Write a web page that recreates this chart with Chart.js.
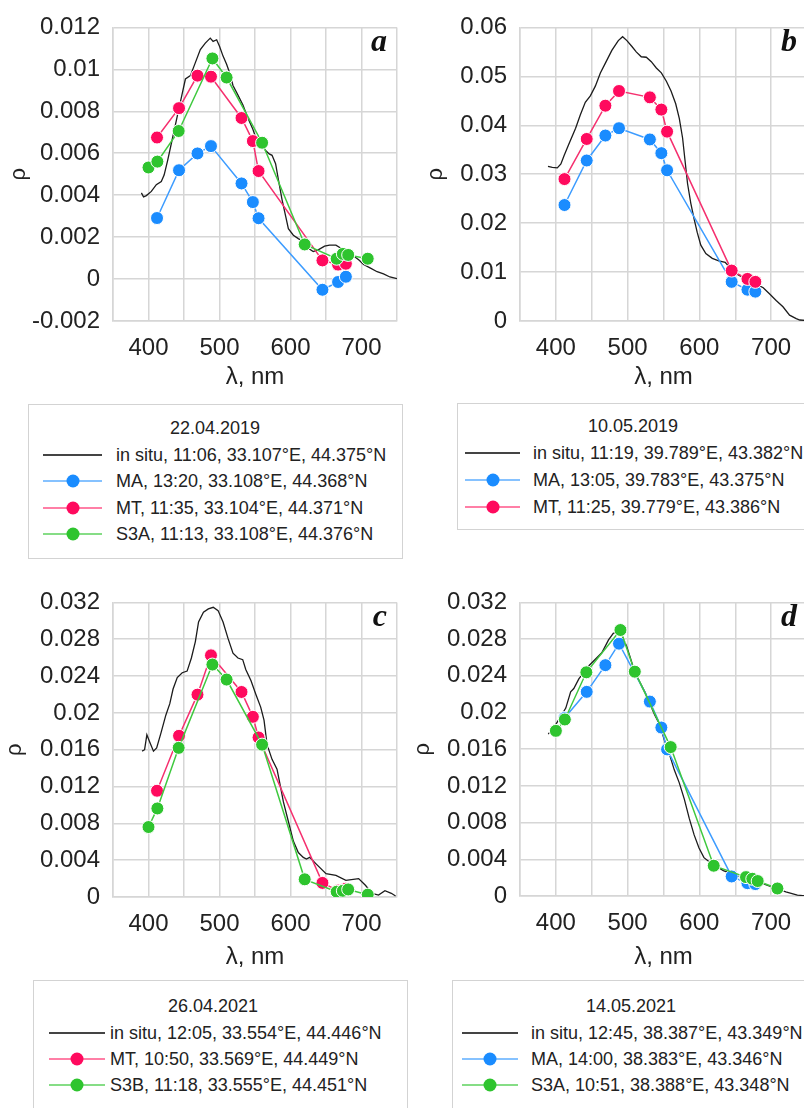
<!DOCTYPE html>
<html lang="en">
<head>
  <meta charset="UTF-8">
  <title>Reflectance spectra: in situ vs satellite</title>
  <script src="https://cdn.jsdelivr.net/npm/chart.js"></script>
  <style>
    html, body { margin: 0; padding: 0; background: #fff; }
    body { position: relative; width: 804px; height: 1108px; overflow: hidden;
           font-family: "Liberation Sans", Arial, sans-serif; color: #222; }
    canvas { position: absolute; }
    .box { position: absolute; border: 1.5px solid #d3d3d3; box-sizing: border-box; }
    .txt { position: absolute; font-size: 18px; line-height: 20px; white-space: nowrap; }
    .sw { position: absolute; height: 2px; }
    .sw i { position: absolute; left: 50%; top: 50%; width: 13px; height: 13px; border-radius: 50%;
            transform: translate(-50%, -50%); }
  </style>
</head>
<body>

  <canvas id="chartA" width="410" height="400" style="left:0; top:0;"></canvas>
  <canvas id="chartB" width="410" height="400" style="left:410px; top:0;"></canvas>
  <canvas id="chartC" width="410" height="405" style="left:0; top:575px;"></canvas>
  <canvas id="chartD" width="410" height="405" style="left:410px; top:575px;"></canvas>

  <script>
    /* band centres of the sensors (nm) */
    const bandsModis = [412, 443, 469, 488, 531, 547, 555, 645, 667, 678]
    const bandsOlci = [400, 412.5, 442.5, 490, 510, 560, 620, 665, 673.75, 681.25, 708.75]

    /* axis ticks */
    const xGrid = [350, 400, 450, 500, 550, 600, 650, 700, 750]
    const xLabels = [400, 500, 600, 700]
    const yTicksA = [-0.002, 0, 0.002, 0.004, 0.006, 0.008, 0.01, 0.012]
    const yTicksB = [0, 0.01, 0.02, 0.03, 0.04, 0.05, 0.06]
    const yTicksCD = [0, 0.004, 0.008, 0.012, 0.016, 0.02, 0.024, 0.028, 0.032]

    /* a: 22.04.2019 */
    const dateA = "22.04.2019"
    const labelsA = ["in situ, 11:06, 33.107°E, 44.375°N", "MA, 13:20, 33.108°E, 44.368°N",
      "MT, 11:35, 33.104°E, 44.371°N", "S3A, 11:13, 33.108°E, 44.376°N"]
    const inSituWlA = [390, 393, 397, 404, 411, 418, 422, 427, 434, 441, 447, 452, 459, 466, 473, 480, 487, 491, 496, 500,
      505, 510, 514, 519, 526, 533, 540, 547, 551, 558, 565, 570, 574, 579, 583, 588, 593, 597, 604, 611,
      618, 625, 632, 639, 648, 655, 664, 671, 678, 687, 696, 703, 712, 722, 731, 740, 750]
    const inSituA = [0.00411, 0.00392, 0.00398, 0.00418, 0.0045, 0.00465, 0.00496, 0.00566, 0.00675, 0.00784,
      0.00877, 0.00954, 0.0097, 0.01032, 0.01094, 0.01125, 0.01149, 0.01133, 0.01141, 0.0111,
      0.01063, 0.01024, 0.00986, 0.00923, 0.00877, 0.0083, 0.00768, 0.00714, 0.00675, 0.00644,
      0.00613, 0.00597, 0.0059, 0.0055, 0.00473, 0.0038, 0.00302, 0.0024, 0.00209, 0.00193,
      0.00178, 0.00147, 0.00131, 0.00139, 0.00157, 0.00162, 0.00162, 0.00147, 0.00131, 0.00115,
      0.00092, 0.00069, 0.00053, 0.00035, 0.00025, 0.0001, 0.00002]
    const maA = [0.00291, 0.00519, 0.00599, 0.00634, 0.00456, 0.00367, 0.0029, -0.00051, -0.00014, 0.00011]
    const mtA = [0.00675, 0.00815, 0.0097, 0.00965, 0.00768, 0.00658, 0.00515, 0.00089, 0.00069, 0.00073]
    const s3aA = [0.00532, 0.0056, 0.00706, 0.01052, 0.00961, 0.0065, 0.00165, 0.00097, 0.0012, 0.00115, 0.00097]

    /* b: 10.05.2019 */
    const dateB = "10.05.2019"
    const labelsB = ["in situ, 11:19, 39.789°E, 43.382°N", "MA, 13:05, 39.783°E, 43.375°N",
      "MT, 11:25, 39.779°E, 43.386°N"]
    const inSituWlB = [389, 395, 402, 407, 411.5, 418, 427.5, 434, 441, 448, 455, 462, 469, 478, 487, 493, 499, 506, 512, 519,
      526, 533, 540, 547, 554, 560.5, 567, 572, 576.6, 580, 583.5, 588, 592.7, 597, 602, 609, 618, 627, 636, 643,
      652, 661.5, 670.6, 680, 689, 698, 707, 716.5, 725.7, 735, 740, 748]
    const inSituB = [0.0316, 0.0314, 0.0313, 0.0321, 0.0338, 0.0361, 0.0394, 0.0421, 0.0447, 0.046,
      0.048, 0.0507, 0.0527, 0.0553, 0.0573, 0.0581, 0.0573, 0.0561, 0.055, 0.054,
      0.0539, 0.053, 0.0517, 0.0507, 0.049, 0.047, 0.0444, 0.0414, 0.0374, 0.0328,
      0.0281, 0.0241, 0.0208, 0.0181, 0.0155, 0.0138, 0.0128, 0.0123, 0.012, 0.0108,
      0.0096, 0.0088, 0.0082, 0.0075, 0.0068, 0.0055, 0.0042, 0.0029, 0.0012, 0.0005, 0.0002, 0.0001]
    const maB = [0.0237, 0.0328, 0.0379, 0.0394, 0.0371, 0.0343, 0.0308, 0.0080, 0.0064, 0.0060]
    const mtB = [0.0290, 0.0372, 0.0440, 0.0470, 0.0457, 0.0432, 0.0387, 0.0103, 0.0086, 0.0080]

    /* c: 26.04.2021 */
    const dateC = "26.04.2021"
    const labelsC = ["in situ, 12:05, 33.554°E, 44.446°N", "MT, 10:50, 33.569°E, 44.449°N",
      "S3B, 11:18, 33.555°E, 44.451°N"]
    const inSituWlC = [391, 394.5, 397.7, 401.4, 407, 411.5, 417.5, 424.4, 430, 434.6, 440.5, 447.5, 454.4, 460.4, 466, 470.5,
      477.4, 484.3, 491.2, 498, 505, 512, 519, 526, 532.7, 537, 544.4, 551, 558, 562.7, 567, 574, 581, 585.6, 590,
      597, 604, 611, 618, 622.5, 627, 636, 650, 664, 678, 696, 705.5, 715, 724, 733, 742, 748]
    const inSituC = [0.01584, 0.016, 0.01762, 0.0169, 0.01584, 0.0162, 0.0178, 0.01975, 0.021, 0.02259,
      0.02383, 0.02436, 0.02454, 0.02596, 0.02774, 0.02987, 0.03093, 0.03129, 0.03147, 0.03111,
      0.02987, 0.02809, 0.02649, 0.02596, 0.02578, 0.02472, 0.02348, 0.02206, 0.02063, 0.01921,
      0.01655, 0.01495, 0.01389, 0.01211, 0.01033, 0.0082, 0.00607, 0.00483, 0.0043, 0.00413,
      0.0043, 0.0036, 0.00253, 0.00235, 0.00181, 0.002, 0.00128, 0.0004, 0.00021, 0.00068, 0.0004, 0.0001]
    const mtC = [0.01154, 0.01751, 0.02198, 0.02625, 0.02227, 0.01957, 0.01733, 0.00153, 0.0007, 0.0009]
    const s3bC = [0.0076, 0.00962, 0.0162, 0.02525, 0.02362, 0.01655, 0.00192, 0.00057, 0.00067, 0.00082, 0.00025]

    /* d: 14.05.2021 */
    const dateD = "14.05.2021"
    const labelsD = ["in situ, 12:45, 38.387°E, 43.349°N", "MA, 14:00, 38.383°E, 43.346°N",
      "S3A, 10:51, 38.388°E, 43.348°N"]
    const inSituWlD = [389.4, 393, 400, 407, 413.8, 420.6, 425, 432, 439, 446, 455, 464, 473.4, 480, 487, 491.7, 498.6, 503,
      510, 517, 524, 530.7, 537.6, 544.5, 551.4, 558, 565, 572, 579, 586, 592.7, 599.5, 606.4, 615, 633.4, 651.7,
      670, 688.5, 706.7, 720.5, 736.6, 748]
    const inSituD = [0.01765, 0.018, 0.01871, 0.0196, 0.02048, 0.02225, 0.02261, 0.02367, 0.02438, 0.02509,
      0.0258, 0.02651, 0.02792, 0.02863, 0.02881, 0.02846, 0.02722, 0.02615, 0.02438, 0.02332,
      0.02225, 0.02101, 0.01977, 0.01871, 0.01694, 0.01552, 0.01375, 0.01233, 0.01056, 0.00843,
      0.00666, 0.00524, 0.00418, 0.00365, 0.00276, 0.00223, 0.0017, 0.00135, 0.00082, 0.00046, 0.0001, 0.00002]
    const maD = [0.0194, 0.02225, 0.02516, 0.0275, 0.02119, 0.01836, 0.01598, 0.00213, 0.0014, 0.0013]
    const s3aD = [0.018, 0.01924, 0.02438, 0.02899, 0.02445, 0.01623, 0.0033, 0.00206, 0.00188, 0.00163, 0.00082]


    Chart.defaults.font.family = "'Liberation Sans', Arial, sans-serif"
    Chart.defaults.color = "#222"

    const styles = {
      insitu: { line: "#1c1c1c", point: "#1c1c1c", legendLine: "#444" },
      ma: { line: "#3d9cff", point: "#1a8cff", legendLine: "#86c2ff" },
      mt: { line: "#f5306f", point: "#ff0a5e", legendLine: "#ff7fa6" },
      s3: { line: "#3fc93f", point: "#2ec42e", legendLine: "#86dd86" },
    }
    const gridColor = "#d6d6d6"

    const zip = (xs, ys) => xs.map((x, i) => ({ x: x, y: ys[i] }))

    const inSituSet = (label, wl, rho) => ({
      label: label, data: zip(wl, rho), borderColor: styles.insitu.line,
      borderWidth: 1.3, pointRadius: 0, order: 4,
    })
    const satSet = (label, bands, rho, st, order) => ({
      label: label, data: zip(bands, rho), borderColor: styles[st].line, borderWidth: 1.5,
      pointRadius: 6.5, pointBackgroundColor: styles[st].point, pointBorderColor: "#fff",
      pointBorderWidth: 1, order: order,
    })

    /* panel letter in the top right corner of the plot */
    const letterPlugin = letter => ({
      id: "letter",
      afterDraw(chart) {
        const { ctx, chartArea } = chart
        ctx.save()
        ctx.font = "italic bold 32px 'Liberation Serif', 'Times New Roman', serif"
        ctx.fillStyle = "#111"
        ctx.textAlign = "right"
        ctx.textBaseline = "alphabetic"
        ctx.fillText(letter, chartArea.right - 10, chartArea.top + 24)
        ctx.restore()
      }
    })

    const makePanel = (id, p) => {
      new Chart(document.getElementById(id), {
        type: "line",
        data: { datasets: p.datasets },
        options: {
          responsive: false,
          animation: false,
          layout: { padding: { top: p.padTop, right: p.padRight, left: 0, bottom: 0 } },
          plugins: { legend: { display: false }, tooltip: { enabled: false } },
          scales: {
            x: {
              type: "linear", min: 350, max: 750,
              afterBuildTicks: s => { s.ticks = xGrid.map(v => ({ value: v })) },
              afterFit: s => { s.height = p.xHeight },
              ticks: {
                autoSkip: false, maxRotation: 0, padding: 13, font: { size: 24 },
                callback: v => xLabels.includes(v) ? String(v) : ""
              },
              grid: { color: gridColor, lineWidth: 1.5, drawTicks: false },
              border: { color: gridColor, width: 1.5 },
              title: { display: true, text: "λ, nm", font: { size: 24 }, padding: { top: 0, bottom: 8 } },
            },
            y: {
              type: "linear", min: p.yTicks[0], max: p.yTicks[p.yTicks.length - 1],
              afterBuildTicks: s => { s.ticks = p.yTicks.map(v => ({ value: v })) },
              afterFit: s => { s.width = p.yWidth },
              ticks: { padding: 13, font: { size: 24 }, callback: v => String(+v.toFixed(3)) },
              grid: { color: gridColor, lineWidth: 1.5, drawTicks: false },
              border: { color: gridColor, width: 1.5 },
              title: { display: true, text: "ρ", font: { size: 22 }, padding: { top: p.rhoPad, bottom: 0 } },
            },
          },
        },
        plugins: [letterPlugin(p.letter)],
      })
    }

    makePanel("chartA", {
      letter: "a", yTicks: yTicksA, padTop: 21, padRight: 7, yWidth: 113, xHeight: 79, rhoPad: 6,
      datasets: [
        inSituSet(labelsA[0], inSituWlA, inSituA),
        satSet(labelsA[1], bandsModis, maA, "ma", 3),
        satSet(labelsA[2], bandsModis, mtA, "mt", 2),
        satSet(labelsA[3], bandsOlci, s3aA, "s3", 1),
      ]
    })
    makePanel("chartB", {
      letter: "b", yTicks: yTicksB, padTop: 20, padRight: 9, yWidth: 110, xHeight: 79, rhoPad: 13,
      datasets: [
        inSituSet(labelsB[0], inSituWlB, inSituB),
        satSet(labelsB[1], bandsModis, maB, "ma", 3),
        satSet(labelsB[2], bandsModis, mtB, "mt", 2),
      ]
    })
    makePanel("chartC", {
      letter: "c", yTicks: yTicksCD, padTop: 22, padRight: 7, yWidth: 113, xHeight: 83, rhoPad: 2,
      datasets: [
        inSituSet(labelsC[0], inSituWlC, inSituC),
        satSet(labelsC[1], bandsModis, mtC, "mt", 2),
        satSet(labelsC[2], bandsOlci, s3bC, "s3", 1),
      ]
    })
    makePanel("chartD", {
      letter: "d", yTicks: yTicksCD, padTop: 20, padRight: 9, yWidth: 110, xHeight: 84, rhoPad: 0,
      datasets: [
        inSituSet(labelsD[0], inSituWlD, inSituD),
        satSet(labelsD[1], bandsModis, maD, "ma", 3),
        satSet(labelsD[2], bandsOlci, s3aD, "s3", 1),
      ]
    })

    /* boxed legends under each panel */
    const makeLegend = (date, labels, kinds, box) => {
      const el = (cls, css) => {
        const d = document.createElement("div")
        d.className = cls
        Object.assign(d.style, css)
        document.body.appendChild(d)
        return d
      }
      el("box", { left: box.l + "px", top: box.t + "px", width: box.w + "px", height: box.h + "px" })
      const t = el("txt", { left: (box.titleX - 100) + "px", width: "200px", textAlign: "center", top: (box.titleY - 10) + "px" })
      t.textContent = date
      labels.forEach((lab, i) => {
        const st = styles[kinds[i]]
        const y = box.rows[i]
        const sw = el("sw", { left: box.sw[0] + "px", width: (box.sw[1] - box.sw[0]) + "px", top: (y - 1) + "px",
          background: st.legendLine })
        if (kinds[i] !== "insitu") {
          const dot = document.createElement("i")
          dot.style.background = st.point
          sw.appendChild(dot)
        }
        const tx = el("txt", { left: box.textX + "px", top: (y - 10) + "px" })
        tx.textContent = lab
      })
    }

    makeLegend(dateA, labelsA, ["insitu", "ma", "mt", "s3"],
      { l: 28, t: 404, w: 375, h: 155, titleX: 215, titleY: 428, rows: [455, 481, 508, 534], sw: [43, 102], textX: 116 })
    makeLegend(dateB, labelsB, ["insitu", "ma", "mt"],
      { l: 457, t: 403, w: 352, h: 127, titleX: 633, titleY: 426, rows: [453, 480, 507], sw: [465, 520], textX: 533 })
    makeLegend(dateC, labelsC, ["insitu", "mt", "s3"],
      { l: 33, t: 980, w: 375, h: 140, titleX: 213, titleY: 1006, rows: [1033, 1059, 1085], sw: [49, 105], textX: 110 })
    makeLegend(dateD, labelsD, ["insitu", "ma", "s3"],
      { l: 452, t: 980, w: 358, h: 140, titleX: 631, titleY: 1006, rows: [1033, 1059, 1085], sw: [462, 518], textX: 531 })
  </script>

</body>
</html>
